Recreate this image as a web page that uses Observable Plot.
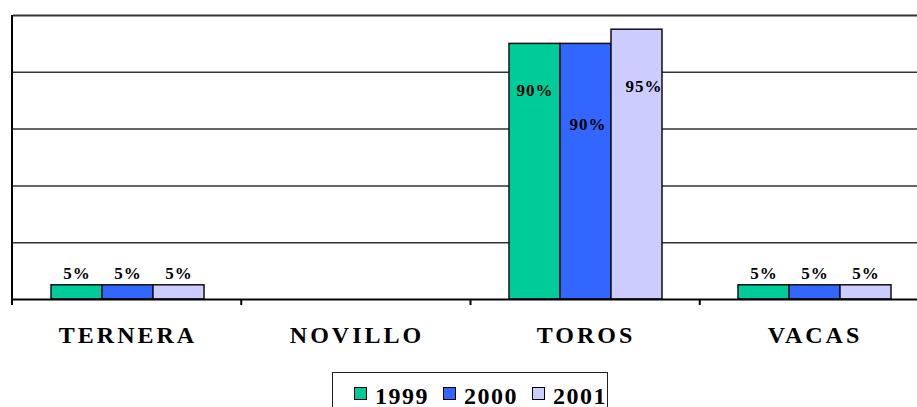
<!DOCTYPE html>
<html><head><meta charset="utf-8">
<script src="https://cdn.jsdelivr.net/npm/d3@7"></script>
<script src="https://cdn.jsdelivr.net/npm/@observablehq/plot@0.6"></script>
<style>
html,body{margin:0;padding:0;background:#fff;overflow:hidden;width:917px;height:407px}
#chart svg{display:block;max-width:none !important;overflow:hidden}
#chart g[aria-label*="fx-axis"] text{font-family:"Liberation Serif","Times New Roman",serif;font-weight:bold;font-size:24px;letter-spacing:3px;fill:#000}
#chart g[aria-label="text"] text{letter-spacing:1px}
.legend{position:absolute;left:332px;top:372px;width:276px;height:44px;border:1.5px solid #222;box-sizing:border-box;
  font-family:"Liberation Serif","Times New Roman",serif;font-weight:bold;font-size:24px;line-height:24px;letter-spacing:1.5px;color:#000;
  padding:3px 0 0 21px;display:flex;white-space:nowrap}
.legend .item{display:flex;align-items:center;margin-right:14px}
.legend .sw{width:11px;height:11px;border:1px solid #000;margin-right:8px;position:relative;top:-2px}
</style></head><body>
<div id="chart"></div>
<div class="legend" id="legend"></div>
<script>
// ---- data ----
const categories = ["TERNERA", "NOVILLO", "TOROS", "VACAS"];
const years = ["1999", "2000", "2001"];
const values1999 = [5, 0, 90, 5];
const values2000 = [5, 0, 90, 5];
const values2001 = [5, 0, 95, 5];
const yTicks = [20, 40, 60, 80, 100];
const colors = ["#00CC99", "#3366FF", "#CCCCFF"];
// label nudges (dx, dy) as Excel placed them
const labelNudge = {"TOROS-1999": [0, 47], "TOROS-2000": [2, 81], "TOROS-2001": [7, 57]};
const defaultNudge = [0, -12];

const series = [values1999, values2000, values2001];
const rows = [];
categories.forEach((c, i) => years.forEach((y, j) => rows.push({category: c, year: y, value: series[j][i]})));
const shown = rows.filter(d => d.value > 0);
const grid = categories.flatMap(c => yTicks.map(t => ({category: c, tick: t})));
const base = categories.map(c => ({category: c, tick: 0}));

const labelMarks = shown.map(d => {
  const [dx, dy] = labelNudge[d.category + "-" + d.year] || defaultNudge;
  return Plot.text([d], {fx: "category", x: "year", y: "value", text: d => d.value + "%",
    dx, dy, fontSize: 17, fontWeight: "bold", fill: "#000"});
});

const chart = Plot.plot({
  width: 917, height: 366,
  marginLeft: 12, marginRight: -12, marginTop: 15, marginBottom: 67,
  style: {fontFamily: "'Liberation Serif','Times New Roman',serif", background: "#fff"},
  fx: {domain: categories, padding: 0, label: null, axis: "bottom", tickSize: 0, tickPadding: 26},
  x: {domain: years, paddingInner: 0, paddingOuter: 0.745, axis: null},
  y: {domain: [0, 100], axis: null},
  color: {domain: years, range: colors},
  marks: [
    Plot.ruleY(grid, {fx: "category", y: "tick", stroke: "#333", strokeWidth: d => d.tick === 100 ? 2 : 1.5}),
    Plot.barY(shown, {fx: "category", x: "year", y: "value", fill: "year", stroke: "#111", strokeWidth: 1.5}),
    Plot.ruleY(base, {fx: "category", y: "tick", stroke: "#000", strokeWidth: 2}),
    ...labelMarks
  ]
});
document.getElementById("chart").appendChild(chart);

// category-boundary ticks and left axis line, derived from the plot's scales
const sfx = chart.scale("fx"), sy = chart.scale("y");
const bx = d3.scaleBand(sfx.domain, sfx.range).padding(0);
const ys = d3.scaleLinear(sy.domain, sy.range);
const edges = sfx.domain.map(c => bx(c)).concat([bx.range()[1]]);
const g = d3.select(chart).append("g").attr("stroke", "#000").attr("stroke-width", 2);
g.append("line").attr("x1", edges[0]).attr("x2", edges[0]).attr("y1", ys(100)).attr("y2", ys(0) + 6);
edges.slice(1).forEach(e => g.append("line").attr("x1", e).attr("x2", e).attr("y1", ys(0)).attr("y2", ys(0) + 6));

// legend
const legend = document.getElementById("legend");
years.forEach((y, i) => {
  const it = document.createElement("div"); it.className = "item";
  const sw = document.createElement("span"); sw.className = "sw"; sw.style.background = colors[i];
  const t = document.createElement("span"); t.textContent = y;
  it.appendChild(sw); it.appendChild(t); legend.appendChild(it);
});
</script>
</body></html>
